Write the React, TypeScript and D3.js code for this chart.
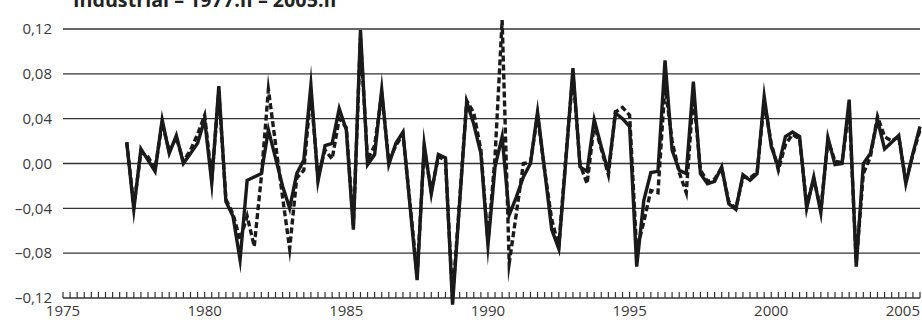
import * as d3 from "d3";

const startYear = 1975;
const firstIndex = 9; // 1977.II
const lastIndex = 121; // 2005.II

const solid = [
  0.019, -0.041, 0.013, 0.003, -0.007, 0.039, 0.009, 0.025, 0.0, 0.009, 0.018,
  0.039, -0.017, 0.069, -0.034, -0.047, -0.086, -0.015, -0.012, -0.009, 0.03,
  0.005, -0.02, -0.04, -0.009, 0.003, 0.07, -0.016, 0.016, 0.018, 0.049, 0.03,
  -0.059, 0.119, -0.001, 0.008, 0.066, -0.001, 0.018, 0.028, -0.038, -0.104,
  0.017, -0.027, 0.008, 0.005, -0.126, -0.035, 0.055, 0.035, 0.009, -0.073,
  -0.003, 0.024, -0.046, -0.03, -0.012, 0.0, 0.046, -0.006, -0.059, -0.076,
  0.003, 0.085, -0.003, -0.007, 0.039, 0.015, -0.007, 0.045, 0.04, 0.033,
  -0.092, -0.033, -0.008, -0.007, 0.092, 0.012, -0.006, -0.009, 0.073, -0.009,
  -0.018, -0.016, -0.003, -0.036, -0.041, -0.01, -0.015, -0.009, 0.06, 0.015,
  -0.003, 0.024, 0.028, 0.024, -0.04, -0.012, -0.044, 0.023, -0.001, 0.0, 0.057,
  -0.092, 0.0, 0.009, 0.039, 0.013, 0.019, 0.025, -0.018, 0.009, 0.033,
];

const dashed = [
  0.019, -0.038, 0.01, 0.006, -0.005, 0.036, 0.011, 0.023, 0.002, 0.012, 0.026,
  0.043, -0.014, 0.064, -0.032, -0.045, -0.068, -0.047, -0.074, -0.012, 0.066,
  0.018, -0.03, -0.076, -0.013, -0.006, 0.063, -0.012, 0.012, 0.004, 0.04,
  0.032, -0.055, 0.112, 0.003, 0.016, 0.062, 0.002, 0.016, 0.026, -0.036, -0.1,
  0.014, -0.025, 0.006, 0.003, -0.12, -0.033, 0.056, 0.045, 0.012, -0.07,
  0.006, 0.128, -0.089, -0.045, 0.0, 0.001, 0.043, -0.006, -0.05, -0.074,
  0.006, 0.08, -0.001, -0.018, 0.035, 0.013, -0.01, 0.046, 0.05, 0.043, -0.078,
  -0.052, -0.024, -0.026, 0.07, 0.02, -0.008, -0.026, 0.062, -0.006, -0.016,
  -0.014, -0.004, -0.034, -0.04, -0.012, -0.013, -0.008, 0.055, 0.018, -0.006,
  0.017, 0.026, 0.022, -0.037, -0.014, -0.041, 0.021, 0.002, 0.001, 0.05,
  -0.088, -0.009, 0.006, 0.042, 0.024, 0.02, 0.024, -0.016, 0.008, 0.03,
];

const yearLabels = [1975, 1980, 1985, 1990, 1995, 2000, 2005];
const yTicks = [-0.12, -0.08, -0.04, 0, 0.04, 0.08, 0.12];
const title = "Industrial – 1977.II – 2005.II";

const W = 922;
const H = 320;
const font = "'Open Sans', sans-serif";

export default function App() {
  const x = d3.scaleLinear().domain([0, lastIndex]).range([63, 920]);
  const y = d3.scaleLinear().domain([-0.12, 0.12]).range([298, 29]);

  const line = d3
    .line<number>()
    .x((_, i) => x(firstIndex + i))
    .y((d) => y(d));

  const fmt = (v: number) =>
    (v < 0 ? "–" : "") + Math.abs(v).toFixed(2).replace(".", ",");

  const quarterTicks = d3.range(0, lastIndex + 1);

  return (
    <svg
      width={W}
      height={H}
      style={{ position: "absolute", left: 0, top: 0, background: "#fff" }}
      fontFamily={font}
    >
      <text x={73} y={7} fontSize={19.7} fontWeight="bold" fill="#222">
        {title}
      </text>

      {yTicks.map((t) => (
        <g key={t}>
          {t > -0.12 && (
            <line
              x1={63}
              x2={920}
              y1={y(t)}
              y2={y(t)}
              stroke="#333"
              strokeWidth={1.3}
            />
          )}
          <text
            x={52}
            y={y(t)}
            dy="0.35em"
            textAnchor="end"
            fontSize={15}
            fill="#3a3a3a"
          >
            {fmt(t)}
          </text>
        </g>
      ))}

      <line x1={63} x2={920} y1={y(-0.12)} y2={y(-0.12)} stroke="#333" strokeWidth={1.5} />
      {quarterTicks.map((q) => (
        <line
          key={q}
          x1={x(q)}
          x2={x(q)}
          y1={y(-0.12)}
          y2={y(-0.12) - 6}
          stroke="#333"
          strokeWidth={1.2}
        />
      ))}
      {yearLabels.map((yr) => {
        const px = x((yr - startYear) * 4);
        const last = px + 17 > 921;
        return (
          <text
            key={yr}
            x={last ? 920 : px}
            y={316}
            textAnchor={last ? "end" : "middle"}
            fontSize={15}
            fill="#3a3a3a"
          >
            {yr}
          </text>
        );
      })}

      <path
        d={line(dashed) ?? ""}
        fill="none"
        stroke="#1a1a1a"
        strokeWidth={3.4}
        strokeDasharray="6,3"
        strokeLinejoin="miter"
        strokeMiterlimit={12}
      />
      <path
        d={line(solid) ?? ""}
        fill="none"
        stroke="#1a1a1a"
        strokeWidth={3.4}
        strokeLinejoin="miter"
        strokeMiterlimit={12}
      />
    </svg>
  );
}
